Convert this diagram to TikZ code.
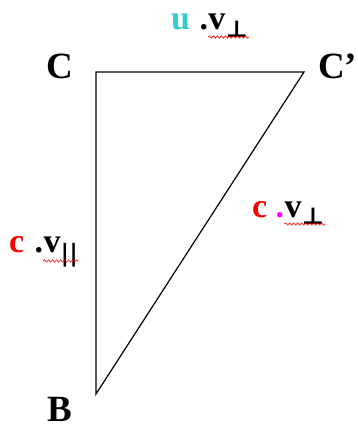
\documentclass[tikz,border=0pt]{standalone}
\usepackage{fontspec}
\setmainfont{Liberation Serif}
\newfontfamily\symbfont{DejaVu Serif}
\definecolor{velRed}{HTML}{FF0000}
\definecolor{velCyan}{HTML}{33CCCC}
\definecolor{velMagenta}{HTML}{FF00FF}
\usetikzlibrary{positioning, decorations.pathmorphing}

\begin{document}
\begin{tikzpicture}[x=1pt, y=-1pt]
                \tikzset{
                    cornerword/.style={font=\fontsize{37}{42}\selectfont\bfseries, anchor=base west, inner sep=0pt},
                    velword/.style={font=\fontsize{34}{40}\selectfont\bfseries, anchor=base west, inner sep=0pt},
                    spellmark/.style={draw=velRed, line width=0.6pt, decorate,
                        decoration={snake, amplitude=1.2pt, segment length=4pt}},
                }
                \useasboundingbox (0,0) rectangle (357,428);

                % Triangle
                \coordinate (ptC) at (96,72);
                \coordinate (ptCp) at (304,72);
                \coordinate (ptB) at (96,394);
                \draw[line width=1.2pt] (ptC) -- (ptCp) -- (ptB) -- cycle;

                % Corner labels
                \node[cornerword] (labC) at (46,78) {C};
                \node[cornerword] (labCp) at (318,78) {C’};
                \node[cornerword] (labB) at (47,421) {B};

                % Top side: u .v_perp
                \node[velword, text=velCyan] (coefTop) at (171,30) {u};
                \node[velword, base right=9pt of coefTop] (dotTop) {.};
                \node[velword, base right=0pt of dotTop] (vecTop) {v\textsubscript{\symbfont ⊥}};
                \draw[spellmark] ([yshift=-7pt]vecTop.base west) -- ([yshift=-7pt]vecTop.base east);

                % Left side: c .v_par
                \node[velword, text=velRed] (coefLeft) at (9,252) {c};
                \node[velword, base right=10pt of coefLeft] (dotLeft) {.};
                \node[velword, base right=0pt of dotLeft] (vecLeft) {v\textsubscript{\symbfont\bfseries ||}};
                \draw[spellmark] ([yshift=-9pt]vecLeft.base west) -- ([yshift=-9pt]vecLeft.base east);

                % Hypotenuse: c .v_perp
                \node[velword, text=velRed] (coefRight) at (252,217) {c};
                \node[velword, text=velMagenta, base right=8pt of coefRight] (dotRight) {.};
                \node[velword, base right=0pt of dotRight] (vecRight) {v\textsubscript{\symbfont ⊥}};
                \draw[spellmark] ([yshift=-7pt]vecRight.base west) -- ([yshift=-7pt]vecRight.base east);
            \end{tikzpicture}
\end{document}
